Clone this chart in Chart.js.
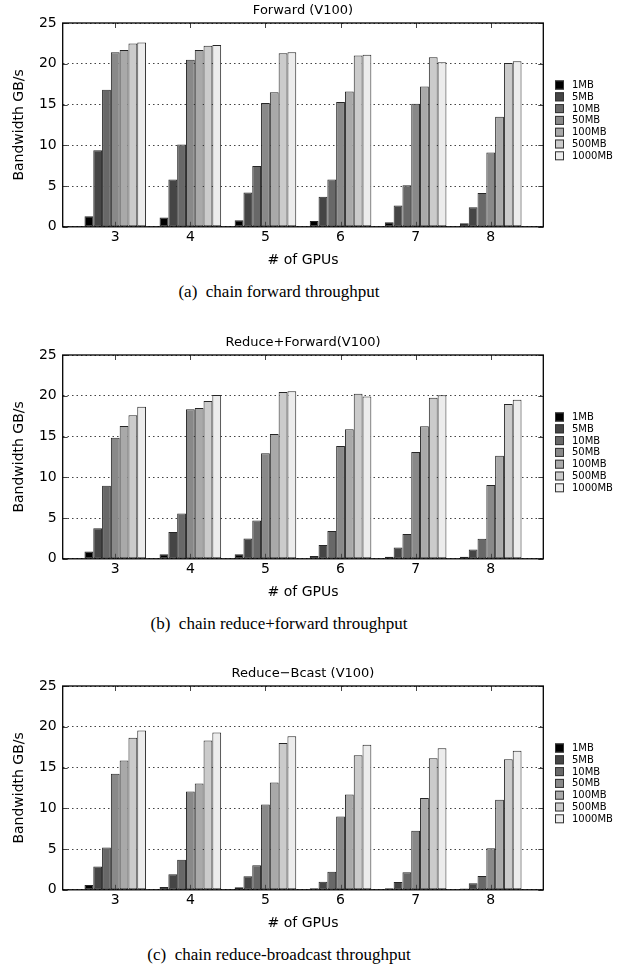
<!DOCTYPE html>
<html>
<head>
<meta charset="utf-8">
<script src="https://cdn.jsdelivr.net/npm/chart.js@4.4.0/dist/chart.umd.min.js"></script>
<style>
  body { margin: 0; background: #fff; }
  #page { position: relative; width: 630px; height: 970px; }
  canvas { position: absolute; left: 0; }
  .cap { position: absolute; left: 0; width: 558px; text-align: center; line-height: 20px;
         font-family: "Liberation Serif", "Times New Roman", serif; font-size: 17px; color: #000; }
</style>
</head>
<body>
<div id="page">
  <canvas id="c1" width="630" height="280" style="top:0px"></canvas>
  <div class="cap" style="top:282px">(a)&nbsp; chain forward throughput</div>
  <canvas id="c2" width="630" height="280" style="top:332px"></canvas>
  <div class="cap" style="top:614px">(b)&nbsp; chain reduce+forward throughput</div>
  <canvas id="c3" width="630" height="280" style="top:663px"></canvas>
  <div class="cap" style="top:945px">(c)&nbsp; chain reduce-broadcast throughput</div>
</div>
<script>
// DATA
const gpus = [3, 4, 5, 6, 7, 8];
const sizes = ['1MB', '5MB', '10MB', '50MB', '100MB', '500MB', '1000MB'];
const yTicks = [0, 5, 10, 15, 20, 25];

// one row per message size, one value per GPU count
const forward = [
  [1.3, 1.15, 0.8, 0.7, 0.55, 0.45],
  [9.4, 5.8, 4.2, 3.7, 2.6, 2.4],
  [16.8, 10.1, 7.45, 5.8, 5.1, 4.15],
  [21.4, 20.5, 15.2, 15.3, 15.1, 9.1],
  [21.7, 21.7, 16.5, 16.6, 17.2, 13.5],
  [22.5, 22.2, 21.3, 21.0, 20.8, 20.1],
  [22.6, 22.3, 21.4, 21.1, 20.2, 20.3]
];
const reduceForward = [
  [0.9, 0.55, 0.55, 0.35, 0.25, 0.25],
  [3.75, 3.3, 2.5, 1.7, 1.4, 1.15],
  [8.95, 5.55, 4.7, 3.4, 3.05, 2.45],
  [14.85, 18.35, 12.95, 13.85, 13.1, 9.05],
  [16.3, 18.5, 15.3, 15.9, 16.25, 12.65],
  [17.6, 19.35, 20.45, 20.25, 19.75, 19.0],
  [18.65, 20.1, 20.55, 19.9, 20.05, 19.5]
];
const reduceBcast = [
  [0.6, 0.35, 0.3, 0.2, 0.2, 0.15],
  [2.85, 1.9, 1.65, 1.0, 0.95, 0.8],
  [5.2, 3.7, 3.0, 2.2, 2.15, 1.7],
  [14.25, 12.05, 10.45, 9.0, 7.25, 5.1],
  [15.85, 13.05, 13.15, 11.7, 11.25, 11.05],
  [18.65, 18.3, 18.0, 16.5, 16.15, 16.0],
  [19.55, 19.3, 18.85, 17.8, 17.35, 17.05]
];

const greys = ['#000000', '#454545', '#686868', '#898989', '#a9a9a9', '#cbcbcb', '#ececec'];
const FONT = '"DejaVu Sans", Verdana, sans-serif';

// gnuplot style frame, inward ticks, title and legend
const gnuFrame = {
  id: 'gnuFrame',
  afterDraw(chart, args, opts) {
    const c = chart.ctx, a = chart.chartArea;
    const xs = chart.scales.x, ys = chart.scales.y;
    c.save();
    // tick marks
    c.strokeStyle = '#444';
    c.lineWidth = 1;
    c.beginPath();
    gpus.forEach(v => {
      const px = Math.round(xs.getPixelForValue(v)) + 0.5;
      c.moveTo(px, a.top); c.lineTo(px, a.top + 5);
      c.moveTo(px, a.bottom); c.lineTo(px, a.bottom - 5);
    });
    yTicks.forEach(v => {
      const py = Math.round(ys.getPixelForValue(v)) + 0.5;
      c.moveTo(a.left, py); c.lineTo(a.left + 5, py);
      c.moveTo(a.right, py); c.lineTo(a.right - 5, py);
    });
    c.stroke();
    // frame
    c.strokeStyle = '#000';
    c.lineWidth = 1.3;
    c.strokeRect(a.left, a.top, a.right - a.left, a.bottom - a.top);
    // title
    c.fillStyle = '#000';
    c.font = '13px ' + FONT;
    c.textAlign = 'center';
    c.textBaseline = 'middle';
    c.fillText(opts.text, (a.left + a.right) / 2, a.top - 12);
    // legend
    c.font = '10px ' + FONT;
    c.textAlign = 'left';
    chart.data.datasets.forEach((ds, i) => {
      const y = a.top + 62 + i * 11.8;
      c.fillStyle = ds.backgroundColor;
      c.fillRect(555, y - 4.5, 9, 9);
      c.strokeStyle = '#333';
      c.lineWidth = 1;
      c.strokeRect(555.5, y - 4, 8, 8);
      c.fillStyle = '#000';
      c.fillText(ds.label, 572, y + 0.5);
    });
    c.restore();
  }
};

function makeChart(id, title, rows) {
  return new Chart(document.getElementById(id), {
    type: 'bar',
    data: {
      labels: gpus,
      datasets: rows.map((r, i) => ({
        label: sizes[i],
        data: r,
        backgroundColor: greys[i],
        borderColor: '#262626',
        borderWidth: 1,
        borderSkipped: false
      }))
    },
    options: {
      responsive: false,
      animation: false,
      devicePixelRatio: 1,
      layout: { padding: { top: 23, right: 86.7, left: 0, bottom: 0 } },
      categoryPercentage: 0.82,
      barPercentage: 1.0,
      plugins: {
        legend: { display: false },
        tooltip: { enabled: false },
        gnuFrame: { text: title }
      },
      scales: {
        x: {
          type: 'linear',
          min: 2.3,
          max: 8.7,
          offset: false,
          afterBuildTicks: s => { s.ticks = gpus.map(v => ({ value: v })); },
          afterFit: s => { s.height = 53.2; },
          grid: { display: false, drawTicks: false },
          border: { display: false },
          ticks: { padding: 2, color: '#000', font: { family: FONT, size: 14 },
                   callback: v => String(v), maxRotation: 0, autoSkip: false },
          title: { display: true, text: '# of GPUs', color: '#000',
                   font: { family: FONT, size: 14 }, padding: { top: 0, bottom: 10.8 } }
        },
        y: {
          min: 0,
          max: 25,
          afterBuildTicks: s => { s.ticks = yTicks.map(v => ({ value: v })); },
          afterFit: s => { s.width = 62.7; },
          grid: { color: '#444', lineWidth: 1, drawTicks: false },
          border: { display: false, dash: [1.5, 3] },
          ticks: { padding: 6, color: '#000', font: { family: FONT, size: 14 } },
          title: { display: true, text: 'Bandwidth GB/s', color: '#000',
                   font: { family: FONT, size: 14 }, padding: { top: 10.6, bottom: 0 } }
        }
      }
    },
    plugins: [gnuFrame]
  });
}

makeChart('c1', 'Forward (V100)', forward);
makeChart('c2', 'Reduce+Forward(V100)', reduceForward);
makeChart('c3', 'Reduce\u2212Bcast (V100)', reduceBcast);
</script>
</body>
</html>
